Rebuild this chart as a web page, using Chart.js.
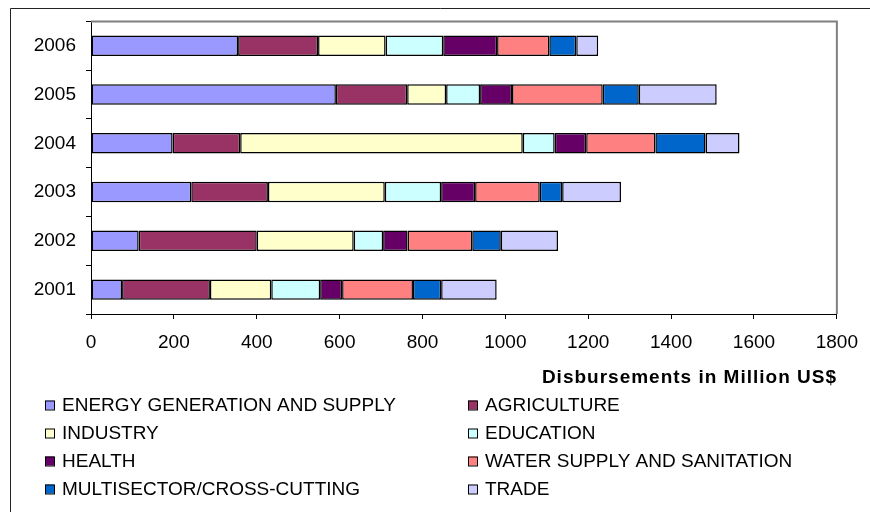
<!DOCTYPE html>
<html>
<head>
<meta charset="utf-8">
<script src="https://cdn.jsdelivr.net/npm/chart.js@4.4.3/dist/chart.umd.min.js"></script>
<style>
  html, body { margin: 0; padding: 0; background: #fff; }
  #wrap { width: 870px; height: 512px; position: relative; }
</style>
</head>
<body>
<div id="wrap"><canvas id="chart" width="870" height="512"></canvas></div>
<script>
// years top to bottom, as the chart shows them
const years = ['2006', '2005', '2004', '2003', '2002', '2001'];

const energy      = [355, 591, 197, 242, 115, 75];
const agriculture = [193, 172, 163, 185, 285, 212];
const industry    = [163, 94, 682, 282, 234, 148];
const education   = [139, 82, 77, 136, 71, 118];
const health      = [130, 77, 76, 82, 59, 53];
const water       = [126, 219, 167, 156, 156, 171];
const multisector = [65, 87, 121, 54, 69, 68];
const trade       = [53, 188, 82, 142, 138, 134];

const xTicks = [0, 200, 400, 600, 800, 1000, 1200, 1400, 1600, 1800];
const xTitle = 'Disbursements in Million US$';

const FONT = "'Liberation Sans', Arial, sans-serif";

const series = [
  { label: 'ENERGY GENERATION AND SUPPLY', data: energy, color: '#9999FF' },
  { label: 'AGRICULTURE', data: agriculture, color: '#993366' },
  { label: 'INDUSTRY', data: industry, color: '#FFFFCC' },
  { label: 'EDUCATION', data: education, color: '#CCFFFF' },
  { label: 'HEALTH', data: health, color: '#660066' },
  { label: 'WATER SUPPLY AND SANITATION', data: water, color: '#FF8080' },
  { label: 'MULTISECTOR/CROSS-CUTTING', data: multisector, color: '#0066CC' },
  { label: 'TRADE', data: trade, color: '#CCCCFF' },
];

// outer frame, plot border, axis title and two-column legend
const decorations = {
  id: 'decorations',
  beforeDraw(chart) {
    const ctx = chart.ctx;
    ctx.save();
    ctx.strokeStyle = '#222';
    ctx.lineWidth = 1;
    ctx.beginPath();
    ctx.moveTo(10.5, 512);
    ctx.lineTo(10.5, 8.5);
    ctx.lineTo(870, 8.5);
    ctx.stroke();
    ctx.restore();
  },
  afterDraw(chart) {
    const ctx = chart.ctx;
    const area = chart.chartArea;
    ctx.save();
    ctx.strokeStyle = '#808080';
    ctx.lineWidth = 2;
    ctx.beginPath();
    ctx.moveTo(area.left, area.top);
    ctx.lineTo(area.right, area.top);
    ctx.lineTo(area.right, area.bottom);
    ctx.stroke();

    ctx.fillStyle = '#000';
    ctx.font = 'bold 19px ' + FONT;
    ctx.letterSpacing = '1px';
    ctx.textAlign = 'right';
    ctx.textBaseline = 'middle';
    ctx.fillText(xTitle, 837, 378);
    ctx.letterSpacing = '0px';

    ctx.font = '19px ' + FONT;
    ctx.textAlign = 'left';
    chart.data.datasets.forEach((ds, i) => {
      const col = i % 2;
      const row = Math.floor(i / 2);
      const bx = col === 0 ? 45 : 468;
      const y = 405 + row * 28;
      ctx.fillStyle = ds.backgroundColor;
      ctx.fillRect(bx, y - 4.5, 9, 9);
      ctx.strokeStyle = '#000';
      ctx.lineWidth = 1;
      ctx.strokeRect(bx + 0.5, y - 4.5 + 0.5, 9, 9);
      ctx.fillStyle = '#000';
      ctx.fillText(ds.label, bx + 17, y + 1);
    });
    ctx.restore();
  }
};

new Chart(document.getElementById('chart'), {
  type: 'bar',
  data: {
    labels: years,
    datasets: series.map((s) => ({
      label: s.label,
      data: s.data,
      backgroundColor: s.color,
      borderColor: '#000',
      borderWidth: 1.5,
      borderSkipped: false,
      barPercentage: 1,
      categoryPercentage: 0.42,
    })),
  },
  options: {
    indexAxis: 'y',
    responsive: false,
    animation: false,
    layout: { padding: { left: 10, top: 8, right: 32, bottom: 0 } },
    plugins: {
      legend: { display: false },
      tooltip: { enabled: false },
    },
    scales: {
      x: {
        stacked: true,
        min: 0,
        max: 1800,
        afterFit(scale) { scale.height = 198; },
        afterBuildTicks(scale) { scale.ticks = xTicks.map((v) => ({ value: v })); },
        grid: { drawOnChartArea: false, tickLength: 5, color: '#000' },
        border: { display: true, color: '#000', width: 1 },
        ticks: {
          color: '#000',
          font: { family: FONT, size: 19 },
          padding: 12,
          maxRotation: 0,
          callback: (value) => String(value),
        },
      },
      y: {
        stacked: true,
        afterFit(scale) { scale.width = 81; },
        grid: { drawOnChartArea: false, offset: true, tickLength: 5, color: '#000' },
        border: { display: true, color: '#000', width: 1 },
        ticks: { color: '#000', font: { family: FONT, size: 19 }, padding: 10 },
      },
    },
  },
  plugins: [decorations],
});
</script>
</body>
</html>
